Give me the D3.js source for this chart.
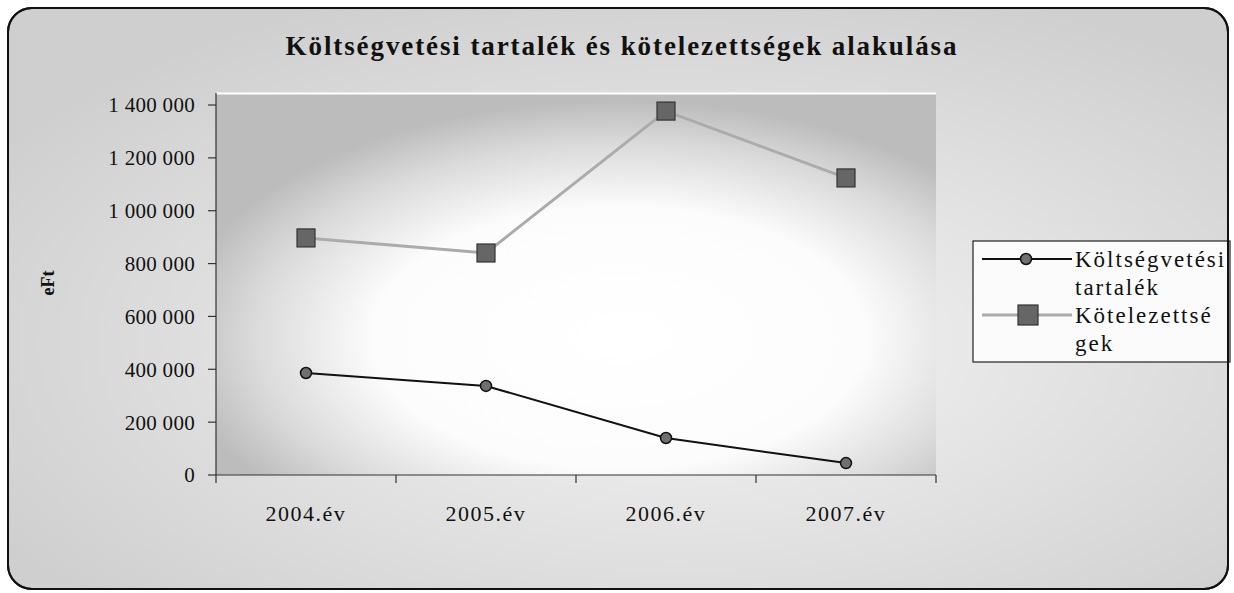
<!DOCTYPE html>
<html>
<head>
<meta charset="utf-8">
<script src="https://cdn.jsdelivr.net/npm/d3@7"></script>
<style>
  html, body { margin: 0; padding: 0; background: #ffffff; }
  svg { display: block; }
  text { font-family: "Liberation Serif", "DejaVu Serif", serif; fill: #111; }
</style>
</head>
<body>
<svg id="chart" width="1234" height="593"></svg>
<script>
// data
const years = ['2004.év', '2005.év', '2006.év', '2007.év'];
const tartalek = [386000, 337000, 140000, 45000];
const kotelezettsegek = [897000, 840000, 1377000, 1124000];
const yTicks = [0, 200000, 400000, 600000, 800000, 1000000, 1200000, 1400000];
const seriesNames = [['Költségvetési', 'tartalék'], ['Kötelezettsé', 'gek']];
const title = 'Költségvetési tartalék és kötelezettségek alakulása';
const yLabel = 'eFt';

const W = 1234, H = 593;
const plot = { left: 216, right: 936, top: 93, bottom: 475 };

const svg = d3.select('#chart');
const defs = svg.append('defs');

// chart background gradient
const bg = defs.append('radialGradient').attr('id', 'bgGrad')
  .attr('cx', '55%').attr('cy', '58%').attr('r', '65%');
bg.append('stop').attr('offset', '0%').attr('stop-color', '#f6f6f6');
bg.append('stop').attr('offset', '100%').attr('stop-color', '#cfcfcf');

const pg = defs.append('radialGradient').attr('id', 'plotGrad')
  .attr('cx', '56%').attr('cy', '64%').attr('r', '62%');
pg.append('stop').attr('offset', '0%').attr('stop-color', '#ffffff');
pg.append('stop').attr('offset', '55%').attr('stop-color', '#fcfcfc');
pg.append('stop').attr('offset', '82%').attr('stop-color', '#dadada');
pg.append('stop').attr('offset', '100%').attr('stop-color', '#bcbcbc');

svg.append('rect')
  .attr('x', 8).attr('y', 8)
  .attr('width', W - 14).attr('height', H - 12)
  .attr('rx', 24).attr('ry', 24)
  .attr('fill', 'url(#bgGrad)')
  .attr('stroke', '#111').attr('stroke-width', 2);

// scales
const x = d3.scaleBand().domain(years).range([plot.left, plot.right]).padding(0);
const y = d3.scaleLinear().domain([0, 1400000]).range([plot.bottom, 105]);
const cx = (d) => x(d) + x.bandwidth() / 2;

const loc = d3.formatLocale({ decimal: ',', thousands: ' ', grouping: [3], currency: ['', ''] });
const fmt = loc.format(',');

// plot area
svg.append('rect')
  .attr('x', plot.left).attr('y', plot.top)
  .attr('width', plot.right - plot.left).attr('height', plot.bottom - plot.top)
  .attr('fill', 'url(#plotGrad)');

svg.append('line')
  .attr('x1', plot.left).attr('x2', plot.right)
  .attr('y1', plot.top + 0.5).attr('y2', plot.top + 0.5)
  .attr('stroke', '#ffffff').attr('stroke-width', 2);

// y axis
const gy = svg.append('g').attr('transform', `translate(${plot.left},0)`);
gy.append('line')
  .attr('y1', plot.top).attr('y2', plot.bottom)
  .attr('stroke', '#333').attr('stroke-width', 1.2);
gy.selectAll('g.tick')
  .data(yTicks)
  .join((enter) => {
    const g = enter.append('g').attr('class', 'tick')
      .attr('transform', (d) => `translate(0,${y(d)})`);
    g.append('line').attr('x1', -8).attr('x2', 0).attr('stroke', '#333').attr('stroke-width', 1.2);
    g.append('text')
      .attr('x', -21).attr('dy', '0.35em')
      .attr('text-anchor', 'end')
      .style('font-size', '21px')
      .style('letter-spacing', '0.3px')
      .text((d) => fmt(d));
    return g;
  });

// x axis
const gx = svg.append('g').attr('transform', `translate(0,${plot.bottom})`);
gx.append('line')
  .attr('x1', plot.left).attr('x2', plot.right)
  .attr('stroke', '#333').attr('stroke-width', 1.2);
const bounds = years.map((d) => x(d)).concat([plot.right]);
gx.selectAll('line.tick')
  .data(bounds)
  .join('line')
  .attr('class', 'tick')
  .attr('x1', (d) => d).attr('x2', (d) => d)
  .attr('y1', 0).attr('y2', 8)
  .attr('stroke', '#333').attr('stroke-width', 1.2);
gx.selectAll('text')
  .data(years)
  .join('text')
  .attr('x', (d) => cx(d))
  .attr('y', 46)
  .attr('text-anchor', 'middle')
  .style('font-size', '22px')
  .style('letter-spacing', '1.5px')
  .text((d) => d);

// lines
const line = d3.line().x((d, i) => cx(years[i])).y((d) => y(d));

svg.append('path')
  .datum(kotelezettsegek)
  .attr('d', line)
  .attr('fill', 'none')
  .attr('stroke', '#ababab')
  .attr('stroke-width', 3);

svg.append('path')
  .datum(tartalek)
  .attr('d', line)
  .attr('fill', 'none')
  .attr('stroke', '#111')
  .attr('stroke-width', 2);

svg.selectAll('rect.sq')
  .data(kotelezettsegek)
  .join('rect')
  .attr('class', 'sq')
  .attr('x', (d, i) => cx(years[i]) - 9)
  .attr('y', (d) => y(d) - 9)
  .attr('width', 18).attr('height', 18)
  .attr('fill', '#666')
  .attr('stroke', '#333').attr('stroke-width', 1.2);

svg.selectAll('circle.pt')
  .data(tartalek)
  .join('circle')
  .attr('class', 'pt')
  .attr('cx', (d, i) => cx(years[i]))
  .attr('cy', (d) => y(d))
  .attr('r', 5.5)
  .attr('fill', '#707070')
  .attr('stroke', '#111').attr('stroke-width', 1.5);

// title
svg.append('text')
  .attr('x', 622).attr('y', 55)
  .attr('text-anchor', 'middle')
  .style('font-size', '27px').style('font-weight', 'bold')
  .style('letter-spacing', '1.9px')
  .text(title);

// y label
svg.append('text')
  .attr('transform', 'translate(54,283) rotate(-90)')
  .attr('text-anchor', 'middle')
  .style('font-size', '18px').style('font-weight', 'bold')
  .text(yLabel);

// legend
const lg = svg.append('g').attr('transform', 'translate(973,241)');
lg.append('rect')
  .attr('width', 257).attr('height', 121)
  .attr('fill', '#fbfbfb')
  .attr('stroke', '#222').attr('stroke-width', 1.2);

const items = lg.selectAll('g.item')
  .data(seriesNames)
  .join('g')
  .attr('class', 'item')
  .attr('transform', (d, i) => `translate(0,${18 + i * 56})`);

items.append('line')
  .attr('x1', 9).attr('x2', 99)
  .attr('stroke', (d, i) => (i === 0 ? '#111' : '#ababab'))
  .attr('stroke-width', (d, i) => (i === 0 ? 2 : 3));

items.filter((d, i) => i === 0).append('circle')
  .attr('cx', 53).attr('r', 5.5)
  .attr('fill', '#707070').attr('stroke', '#111').attr('stroke-width', 1.5);

items.filter((d, i) => i === 1).append('rect')
  .attr('x', 45).attr('y', -10).attr('width', 20).attr('height', 20)
  .attr('fill', '#666').attr('stroke', '#333').attr('stroke-width', 1.2);

items.append('text')
  .attr('x', 102).attr('y', 8)
  .style('font-size', '23px')
  .style('letter-spacing', '2px')
  .selectAll('tspan')
  .data((d) => d)
  .join('tspan')
  .attr('x', 102)
  .attr('dy', (d, i) => (i === 0 ? 0 : 28))
  .text((d) => d);

// border on top so the legend is cut at the frame
svg.append('rect')
  .attr('x', 8).attr('y', 8)
  .attr('width', W - 14).attr('height', H - 12)
  .attr('rx', 24).attr('ry', 24)
  .attr('fill', 'none')
  .attr('stroke', '#111').attr('stroke-width', 2);
</script>
</body>
</html>
